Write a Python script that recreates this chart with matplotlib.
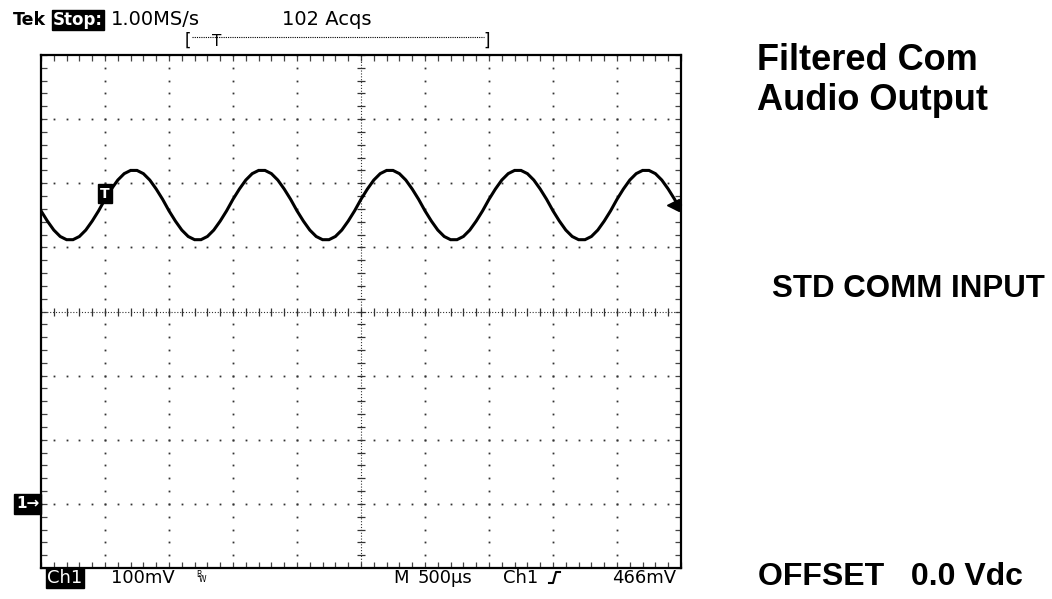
import numpy as np
import matplotlib
matplotlib.use("Agg")
import matplotlib.pyplot as plt
from matplotlib import transforms
from matplotlib.lines import Line2D

# scope settings
volts_per_div = 100      # mV
time_per_div = 0.5       # ms
ground_div = -3          # ch1 ground marker, divisions from centre
trig_level = 466         # mV
trig_pos = 0.5           # ms from left edge

# Ch1 trace, mV, one sample every 50 us across the 5 ms screen
one_cycle = [457, 441, 427, 417, 412, 412, 417, 427, 441, 457,
             475, 491, 505, 515, 520, 520, 515, 505, 491, 475]
ch1_mv = one_cycle * 5 + [457]
t_ms = np.arange(len(ch1_mv)) * 0.05

header_left = "1.00MS/s"
header_acq = "102 Acqs"
bottom_scale = "100mV"
bottom_time = "500\u00b5s"
bottom_trig = "466mV"

W, H = 1052, 599
def px(x, y):
    return x / W, 1 - y / H

fig = plt.figure(figsize=(W / 100, H / 100), dpi=100)
fig.patch.set_facecolor("white")
ax = fig.add_axes([41 / W, 31 / H, 640 / W, 513 / H])

yc = -ground_div * volts_per_div               # screen centre in mV
y0 = yc - 4 * volts_per_div
y1 = yc + 4 * volts_per_div
xc = 5 * time_per_div
ax.set_xlim(0, 10 * time_per_div)
ax.set_ylim(y0, y1)

# graticule: dotted divisions
xminor = np.arange(0, 10 * time_per_div + 1e-9, time_per_div / 5)
yminor = np.arange(y0, y1 + 1e-9, volts_per_div / 5)
for k in range(1, 10):
    if k == 5:
        continue
    gx = k * time_per_div
    ax.plot(np.full(len(yminor), gx), yminor, ls="none", marker="s", ms=1.3,
            mec="none", mfc="#333333")
for k in range(1, 8):
    if k == 4:
        continue
    gy = y0 + k * volts_per_div
    ax.plot(xminor, np.full(len(xminor), gy), ls="none", marker="s", ms=1.3,
            mec="none", mfc="#333333")

# centre cross
ax.axhline(yc, color="#333333", lw=0.8, ls=(0, (1, 1.6)))
ax.axvline(xc, color="#333333", lw=0.8, ls=(0, (1, 1.6)))
ax.plot(xminor, np.full(len(xminor), yc), ls="none", marker="|", ms=6,
        mew=0.9, color="#333333")
ax.plot(np.full(len(yminor), xc), yminor, ls="none", marker="_", ms=6,
        mew=0.9, color="#333333")

# frame ticks
ax.set_xticks(xminor)
ax.set_yticks(yminor)
ax.tick_params(which="both", direction="in", length=4, width=0.9,
               color="#444444", top=True, right=True,
               labelbottom=False, labelleft=False)
for s in ax.spines.values():
    s.set_linewidth(1.6)
    s.set_color("black")

# waveform
ax.plot(t_ms, ch1_mv, color="black", lw=2.2, solid_joinstyle="miter")

# trigger position marker "T"
ax.annotate("T", xy=(trig_pos, trig_level), xytext=(0, 8),
            textcoords="offset points", ha="center", va="center",
            color="white", fontsize=10, fontweight="bold",
            bbox=dict(boxstyle="square,pad=0.18", fc="black", ec="black"))

# trigger level arrow on the right edge
ax.plot([4.935], [trig_level], marker="<", ms=9, color="black", clip_on=False)
ax.plot([4.95, 5.0], [trig_level, trig_level], color="black", lw=1.5,
        clip_on=False)

# ground marker
bt = transforms.blended_transform_factory(ax.transAxes, ax.transData)
ax.text(-0.003, 0, "1\u2192", transform=bt, ha="right", va="center",
        color="white", fontsize=11, fontweight="bold",
        bbox=dict(boxstyle="square,pad=0.15", fc="black", ec="black"))

# header
fig.text(*px(13, 25), "Tek", fontsize=12.5, fontweight="bold", va="baseline")
fig.text(*px(53, 25), "Stop:", fontsize=12, fontweight="bold", va="baseline",
         color="white",
         bbox=dict(boxstyle="square,pad=0.08", fc="black", ec="black"))
fig.text(*px(111, 25), header_left, fontsize=14, va="baseline")
fig.text(*px(282, 25), header_acq, fontsize=14, va="baseline")

# record bracket
fig.text(*px(185, 46), "[", fontsize=12, va="baseline")
fig.text(*px(483, 46), "]", fontsize=12, va="baseline")
fig.add_artist(Line2D([192 / W, 484 / W], [1 - 37 / H, 1 - 37 / H],
                      color="black", lw=0.8, ls=(0, (1, 1))))
fig.text(*px(217, 46), "T", fontsize=11, va="baseline", ha="center")

# bottom readout
fig.text(*px(47, 583), "Ch1", fontsize=13, va="baseline", color="white",
         bbox=dict(boxstyle="square,pad=0.08", fc="black", ec="black"))
fig.text(*px(111, 583), bottom_scale, fontsize=13, va="baseline")
fig.text(*px(196, 577), "B", fontsize=5.5, va="baseline")
fig.text(*px(199, 582), "W", fontsize=5.5, va="baseline")
fig.text(*px(393, 583), "M", fontsize=13, va="baseline")
fig.text(*px(418, 583), bottom_time, fontsize=13, va="baseline")
fig.text(*px(503, 583), "Ch1", fontsize=13, va="baseline")
edge_x = [549, 553, 556, 560]
edge_y = [583, 583, 572, 572]
fig.add_artist(Line2D([x / W for x in edge_x], [1 - y / H for y in edge_y],
                      color="black", lw=1.5))
fig.text(*px(676, 583), bottom_trig, fontsize=13, va="baseline", ha="right")

# labels on the right
fig.text(*px(757, 70), "Filtered Com", fontsize=26, fontweight="bold",
         family="Liberation Sans", va="baseline")
fig.text(*px(757, 110), "Audio Output", fontsize=26, fontweight="bold",
         family="Liberation Sans", va="baseline")
fig.text(*px(772, 297), "STD COMM INPUT", fontsize=22.5, fontweight="bold",
         family="Liberation Sans", va="baseline")
fig.text(*px(758, 585), "OFFSET   0.0 Vdc", fontsize=23, fontweight="bold",
         family="Liberation Sans", va="baseline")

fig.savefig("out.png", dpi=100, facecolor="white")
